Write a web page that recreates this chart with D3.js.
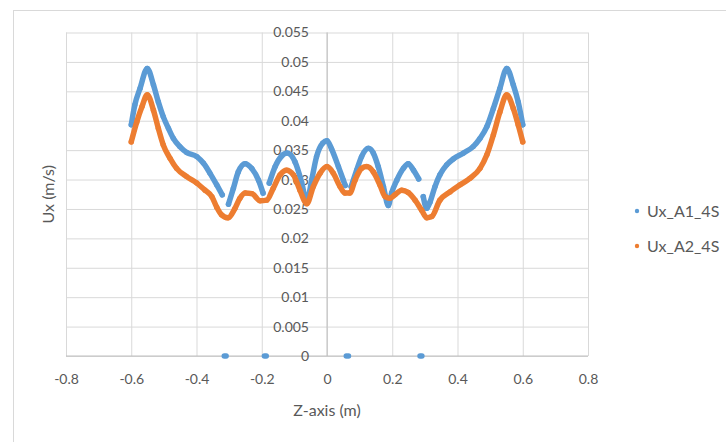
<!DOCTYPE html>
<meta charset="utf-8">
<style>

html, body {
  margin: 0;
  width: 726px;
  height: 442px;
  background: #fff;
  overflow: hidden;
}

svg text {
  font-family: Lato, "Open Sans", sans-serif;
  fill: #595959;
}

.grid line {
  stroke: #d9d9d9;
  stroke-width: 1px;
}

.grid path {
  display: none;
}

.series path {
  fill: none;
  stroke-width: 5.5px;
  stroke-linejoin: round;
  stroke-linecap: round;
}

</style>
<svg class="chart"></svg>
<script src="https://d3js.org/d3.v7.min.js"></script>
<script>

var seriesNames = ['Ux_A1_4S', 'Ux_A2_4S'];
var seriesColors = ['#5b9bd5', '#ed7d31'];

// Ux_A1_4S (zero values are the stray points lying on the axis)
var zA1 = [-0.600, -0.589, -0.573, -0.551, -0.532, -0.517, -0.502, -0.486, -0.471, -0.451,
  -0.430, -0.399, -0.379, -0.359, -0.338, -0.321, -0.315, -0.309, -0.302, -0.287,
  -0.272, -0.251, -0.231, -0.210, -0.196, -0.192, -0.186, -0.177, -0.159, -0.139,
  -0.122, -0.098, -0.078, -0.062, -0.047, -0.032, -0.013, 0.000, 0.014, 0.035,
  0.050, 0.056, 0.059, 0.066, 0.074, 0.091, 0.106, 0.127, 0.142, 0.157,
  0.173, 0.188, 0.198, 0.214, 0.234, 0.249, 0.265, 0.281, 0.285, 0.291,
  0.295, 0.306, 0.316, 0.331, 0.346, 0.367, 0.387, 0.418, 0.448, 0.469,
  0.490, 0.510, 0.530, 0.551, 0.571, 0.586, 0.600];
var uxA1 = [0.0393, 0.0427, 0.0455, 0.0489, 0.0461, 0.0432, 0.0407, 0.0387, 0.0370, 0.0356,
  0.0346, 0.0339, 0.0328, 0.0311, 0.0291, 0.0274, 0, 0, 0.0258, 0.0285,
  0.0313, 0.0327, 0.0319, 0.0299, 0.0277, 0, 0, 0.0294, 0.0322, 0.0340,
  0.0345, 0.0330, 0.0296, 0.0262, 0.0299, 0.0339, 0.0362, 0.0366, 0.0352, 0.0322,
  0.0299, 0.0290, 0, 0, 0.0288, 0.0316, 0.0339, 0.0353, 0.0345, 0.0322,
  0.0288, 0.0256, 0.0277, 0.0299, 0.0319, 0.0327, 0.0316, 0.0301, 0, 0,
  0.0271, 0.0251, 0.0262, 0.0288, 0.0308, 0.0325, 0.0335, 0.0345, 0.0356, 0.0370,
  0.0390, 0.0421, 0.0455, 0.0489, 0.0461, 0.0432, 0.0393];

// Ux_A2_4S
var zA2 = [-0.600, -0.583, -0.567, -0.551, -0.532, -0.517, -0.502, -0.481, -0.461, -0.430,
  -0.399, -0.374, -0.353, -0.338, -0.323, -0.303, -0.282, -0.267, -0.251, -0.230,
  -0.205, -0.185, -0.165, -0.144, -0.124, -0.103, -0.083, -0.062, -0.042, -0.021,
  0.000, 0.019, 0.040, 0.055, 0.070, 0.086, 0.106, 0.122, 0.142, 0.162,
  0.178, 0.193, 0.208, 0.229, 0.249, 0.270, 0.290, 0.306, 0.321, 0.346,
  0.377, 0.408, 0.438, 0.469, 0.490, 0.510, 0.530, 0.551, 0.571, 0.586,
  0.600];
var uxA2 = [0.0364, 0.0398, 0.0424, 0.0444, 0.0418, 0.0387, 0.0359, 0.0336, 0.0319, 0.0305,
  0.0294, 0.0282, 0.0271, 0.0253, 0.0240, 0.0235, 0.0251, 0.0268, 0.0277, 0.0276,
  0.0264, 0.0265, 0.0285, 0.0308, 0.0316, 0.0308, 0.0282, 0.0259, 0.0288, 0.0311,
  0.0322, 0.0311, 0.0288, 0.0277, 0.0277, 0.0299, 0.0319, 0.0322, 0.0313, 0.0291,
  0.0271, 0.0268, 0.0274, 0.0282, 0.0278, 0.0265, 0.0248, 0.0235, 0.0237, 0.0265,
  0.0279, 0.0291, 0.0302, 0.0319, 0.0342, 0.0376, 0.0415, 0.0444, 0.0421, 0.0393,
  0.0364];

var xTicks = [-0.8, -0.6, -0.4, -0.2, 0, 0.2, 0.4, 0.6, 0.8];
var yTicks = [0, 0.005, 0.01, 0.015, 0.02, 0.025, 0.03, 0.035, 0.04, 0.045, 0.05, 0.055];

var width = 726;
var height = 442;
var plot = {left: 66, right: 588, top: 32.5, bottom: 356};

var svg = d3.select('svg.chart')
  .attr('width', width)
  .attr('height', height);

// chart area border
svg.append('rect')
  .attr('x', 13.5)
  .attr('y', 10.5)
  .attr('width', 800)
  .attr('height', 500)
  .attr('fill', '#fff')
  .attr('stroke', '#d9d9d9');

var x = d3.scaleLinear()
  .domain([-0.8, 0.8])
  .range([plot.left, plot.right]);

var y = d3.scaleLinear()
  .domain([0, 0.055])
  .range([plot.bottom, plot.top]);

// gridlines
svg.append('g')
    .attr('class', 'grid')
    .attr('transform', 'translate(0,' + plot.bottom + ')')
    .call(d3.axisBottom(x).tickValues(xTicks).tickSize(-(plot.bottom - plot.top)).tickFormat(''));

svg.append('g')
    .attr('class', 'grid')
    .attr('transform', 'translate(' + plot.left + ',0)')
    .call(d3.axisLeft(y).tickValues(yTicks).tickSize(-(plot.right - plot.left)).tickFormat(''));

// axis lines through zero
svg.append('line')
  .attr('x1', x(0)).attr('x2', x(0))
  .attr('y1', plot.top).attr('y2', plot.bottom)
  .attr('stroke', '#bfbfbf');

svg.append('line')
  .attr('x1', plot.left).attr('x2', plot.right)
  .attr('y1', y(0)).attr('y2', y(0))
  .attr('stroke', '#bfbfbf');

// tick labels (plain hyphen for negatives, like the original)
var xAxis = svg.append('g')
    .attr('transform', 'translate(0,' + plot.bottom + ')')
    .call(d3.axisBottom(x).tickValues(xTicks).tickSize(0).tickPadding(18)
      .tickFormat(function (d) { return String(+d.toFixed(1)); }));

var yAxis = svg.append('g')
    .attr('transform', 'translate(' + x(0) + ',0)')
    .call(d3.axisLeft(y).tickValues(yTicks).tickSize(0).tickPadding(18)
      .tickFormat(function (d) { return String(+d.toFixed(3)); }));

[xAxis, yAxis].forEach(function (a) {
  a.select('.domain').remove();
  a.selectAll('text')
    .style('font-size', '14px')
    .attr('fill', '#595959');
});

// series
var series = [
  {name: seriesNames[0], color: seriesColors[0], data: d3.zip(zA1, uxA1)},
  {name: seriesNames[1], color: seriesColors[1], data: d3.zip(zA2, uxA2)}
];

var line = d3.line()
    .defined(function (d) { return d[1] > 0; })
    .curve(d3.curveMonotoneX)
    .x(function (d) { return x(d[0]); })
    .y(function (d) { return y(d[1]); });

var seriesG = svg.selectAll('g.series')
    .data(series)
  .enter().append('g')
    .attr('class', 'series');

seriesG.append('path')
    .attr('stroke', function (d) { return d.color; })
    .attr('d', function (d) { return line(d.data); });

seriesG.selectAll('circle')
    .data(function (d) { return d.data.map(function (p) { return {p: p, color: d.color}; }); })
  .enter().append('circle')
    .attr('cx', function (d) { return x(d.p[0]); })
    .attr('cy', function (d) { return y(d.p[1]); })
    .attr('r', 2.7)
    .attr('fill', function (d) { return d.color; });

// axis titles
svg.append('text')
    .attr('x', x(0))
    .attr('y', 410)
    .attr('dy', '0.35em')
    .attr('text-anchor', 'middle')
    .style('font-size', '16px')
    .text('Z-axis (m)');

svg.append('text')
    .attr('transform', 'translate(48,' + ((plot.top + plot.bottom) / 2) + ') rotate(-90)')
    .attr('dy', '0.35em')
    .attr('text-anchor', 'middle')
    .style('font-size', '16px')
    .text('Ux (m/s)');

// legend
var legend = svg.selectAll('g.legend')
    .data(series)
  .enter().append('g')
    .attr('class', 'legend')
    .attr('transform', function (d, i) { return 'translate(637,' + (211 + i * 35) + ')'; });

legend.append('circle')
    .attr('r', 2.2)
    .attr('fill', function (d) { return d.color; });

legend.append('text')
    .attr('x', 10)
    .attr('dy', '0.35em')
    .style('font-size', '16px')
    .text(function (d) { return d.name; });

</script>
